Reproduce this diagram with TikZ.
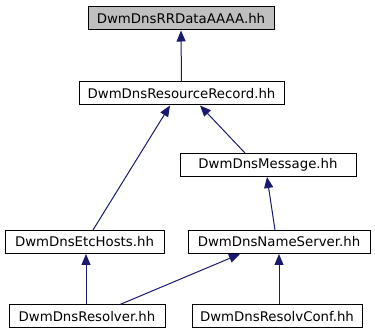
\documentclass[tikz,border=0pt]{standalone}
\usepackage{fontspec}
\setmainfont{DejaVu Sans}
\usetikzlibrary{arrows.meta}
\definecolor{edgecol}{HTML}{191970}
\definecolor{topfill}{HTML}{BFBFBF}
\begin{document}
\begin{tikzpicture}[x=1pt,y=-1pt,
  file/.style={draw=black,line width=1pt,fill=white,inner sep=0pt,minimum height=23pt,font=\fontsize{13.3}{15}\selectfont},
  edge/.style={draw=edgecol,line width=1pt,-{Triangle[length=11pt,width=9pt]}}]
\useasboundingbox (0,0) rectangle (375,336);
\node[file,fill=topfill,minimum width=186pt] (top) at (181,18.5) {DwmDnsRRDataAAAA.hh};
\node[file,minimum width=205pt] (rr) at (181.5,93.5) {DwmDnsResourceRecord.hh};
\node[file,minimum width=176pt] (msg) at (268,165) {DwmDnsMessage.hh};
\node[file,minimum width=159pt] (etc) at (84.5,242) {DwmDnsEtcHosts.hh};
\node[file,minimum width=182pt] (ns) at (279,242) {DwmDnsNameServer.hh};
\node[file,minimum width=156pt] (res) at (87,316.5) {DwmDnsResolver.hh};
\node[file,minimum width=170pt] (conf) at (277,316.5) {DwmDnsResolvConf.hh};
\draw[edge] (rr.north) -- (top.south);
\draw[edge] ([xshift=8.5pt]etc.north) -- ([xshift=-11.5pt]rr.south);
\draw[edge] ([xshift=-23pt]msg.north) -- ([xshift=18.5pt]rr.south);
\draw[edge] ([xshift=-4pt]ns.north) -- ([xshift=-1pt]msg.south);
\draw[edge] ([xshift=-1pt]res.north) -- ([xshift=1.5pt]etc.south);
\draw[edge] ([xshift=33pt]res.north) -- ([xshift=-39pt]ns.south);
\draw[edge] ([xshift=2pt]conf.north) -- (ns.south);
\end{tikzpicture}
\end{document}
